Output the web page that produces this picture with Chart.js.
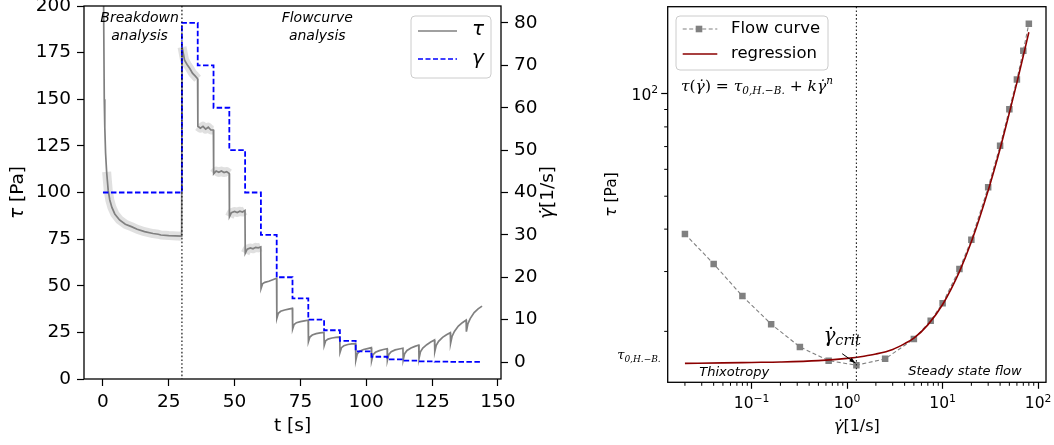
<!DOCTYPE html>
<html>
<head>
<meta charset="utf-8">
<title>Breakdown and flow curve</title>
<script src="https://cdn.jsdelivr.net/npm/chart.js@4.4.1/dist/chart.umd.min.js"></script>
<style>
  body { margin: 0; background: #fff; }
  #wrap { position: relative; width: 1054px; height: 445px; overflow: hidden; }
  #wrap canvas { position: absolute; top: 0; }
</style>
</head>
<body>
<div id="wrap">
  <canvas id="timeChart" width="575" height="445" style="left:0"></canvas>
  <canvas id="flowChart" width="464" height="445" style="left:590px"></canvas>
</div>
<script>
// ---------- left panel: shear stress and shear rate over time ----------
// tau over time (breakdown, then one block per rate step)
const tauTime = [
  0, 0.3, 0.5, 0.7, 1.0, 1.4, 2.0, 2.6, 3.4, 4.5, 6.3, 8.5, 10.8, 13, 15.8, 19, 21, 22, 25, 29.9,
  30.05, 31, 32, 33, 34, 35, 35.95,
  36.05, 37, 38, 39, 40, 41, 41.95,
  42.05, 43, 44, 45, 46, 47, 47.95,
  48.05, 48.8, 50, 51, 52, 53, 53.95,
  54.05, 54.8, 56, 57, 58, 59, 59.95,
  60.05, 60.6, 61.5, 63, 64.5, 65.95,
  66.05, 66.6, 67.5, 69, 70.5, 71.95,
  72.05, 72.6, 73.5, 75, 76.5, 77.95,
  78.05, 78.6, 79.5, 81, 82.5, 83.95,
  84.05, 84.6, 85.5, 87, 88.5, 89.95,
  90.05, 90.6, 91.5, 93, 94.5, 95.95,
  96.05, 96.6, 97.5, 99, 100.5, 101.95,
  102.05, 102.6, 103.5, 105, 106.5, 107.95,
  108.05, 108.6, 109.5, 111, 112.5, 113.95,
  114.05, 114.6, 115.5, 117, 118.5, 119.95,
  120.05, 120.6, 121.5, 123, 124.5, 125.95,
  126.05, 126.6, 127.5, 129, 130.5, 131.95,
  132.05, 132.6, 133.5, 135, 136.5, 137.95,
  138.05, 138.6, 139.5, 141, 142.5, 144
];
const tauValue = [
  260, 190, 150, 135, 121, 111, 101, 96, 92, 88.5, 85.3, 83, 81.7, 80.3, 79, 78, 77.6, 77.2, 76.9, 76.6,
  178, 171, 168.5, 166.5, 164, 162.5, 161,
  135.5, 134.5, 135.5, 134, 135, 133.5, 133.5,
  110, 111.5, 110.8, 111.5, 110.7, 111.2, 110.2,
  87, 89.2, 89.8, 89.3, 90, 89.5, 90.3,
  67.4, 69.6, 70.3, 69.8, 70.6, 70.3, 70.8,
  48.6, 51, 51.8, 52.4, 53.2, 54,
  32.5, 35.2, 36.3, 37, 37.5, 37.9,
  26.8, 29.2, 30.2, 30.8, 31.2, 31.5,
  20, 22.5, 23.6, 24.3, 24.7, 25,
  18, 20.5, 21.4, 22, 22.3, 22.5,
  14.3, 16.8, 17.8, 18.5, 18.8, 19,
  10, 13.5, 14.9, 15.8, 16.3, 16.8,
  9.8, 13, 14.3, 15.2, 15.8, 16.2,
  10, 13.2, 14.6, 15.6, 16.1, 16.5,
  10.2, 13.6, 15.3, 16.6, 17.5, 18.2,
  11, 14.6, 16.6, 18.4, 19.8, 20.9,
  14.7, 18, 20.2, 22.3, 23.7, 24.8,
  19.1, 22.8, 25.5, 28.4, 30.2, 31.6,
  25.4, 29.5, 32.4, 35.6, 37.6, 39.1
];
// shear rate program (step starts), last entry closes the final step
const rateTime = [0, 30, 36, 42, 48, 54, 60, 66, 72, 78, 84, 90, 96, 102, 108, 114, 120, 126, 132, 138, 144];
const rateValue = [40, 80, 70, 60, 50, 40, 30, 20, 15, 10, 7.5, 5, 2.5, 1.25, 0.64, 0.32, 0.16, 0.08, 0.04, 0.02, 0.02];
const tTicks = [0, 25, 50, 75, 100, 125, 150];
const tauTicks = [0, 25, 50, 75, 100, 125, 150, 175, 200];
const rateTicks = [0, 10, 20, 30, 40, 50, 60, 70, 80];
const breakdownEnd = 30;
const phaseNames = [['Breakdown', 'analysis'], ['Flowcurve', 'analysis']];
const phaseAt = [13.9, 81.4];

// ---------- right panel: flow curve ----------
const flowRate = [0.02, 0.04, 0.08, 0.16, 0.32, 0.64, 1.25, 2.5, 5, 7.5, 10, 15, 20, 30, 40, 50, 60, 70, 80];
const flowTau = [38.7, 31.6, 25.4, 21.0, 18.0, 16.4, 15.9, 16.6, 19.0, 21.5, 24.2, 30.5, 37.2, 53.1, 70.4, 90.1, 110.4, 134.1, 161];
const regRate = [0.02, 0.05, 0.1, 0.2, 0.5, 1, 1.5, 2, 3, 4, 5, 7, 10, 15, 20, 30, 40, 50, 60, 70, 80];
const regTau = [16.1, 16.15, 16.2, 16.25, 16.4, 16.65, 16.9, 17.15, 17.7, 18.4, 19.1, 20.9, 24.0, 30.0, 36.7, 52, 69, 88, 108, 129.5, 152];
const tau0 = 16.1;
const gammaCrit = 1.25;
const rateMajor = [0.1, 1, 10, 100];
const rateExp = ['−1', '0', '1', '2'];
const rateDecades = [0.01, 0.1, 1, 10];
const stressMajor = [100];
const stressExp = ['2'];
const stressDecades = [10, 100];

const SANS = '"DejaVu Sans"';
const SERIF = '"DejaVu Serif"';
const GRAY = '#808080';
const BAND = 'rgba(160,160,160,0.33)';
const BLUE = '#0000ff';
const DARKRED = '#8b0000';

Chart.defaults.font.family = 'DejaVu Sans';
Chart.defaults.color = '#000';

// writes a row of text pieces [text, font, dy] next to each other
function textRun(ctx, parts, x, y, align) {
  let w = 0;
  parts.forEach(p => { ctx.font = p[1]; w += ctx.measureText(p[0]).width; });
  let cx = align === 'center' ? x - w / 2 : (align === 'right' ? x - w : x);
  ctx.textAlign = 'left';
  parts.forEach(p => {
    ctx.font = p[1];
    ctx.fillText(p[0], cx, y + (p[2] || 0));
    cx += ctx.measureText(p[0]).width;
  });
}
function textRunUp(ctx, parts, x, y) {
  ctx.save();
  ctx.translate(x, y);
  ctx.rotate(-Math.PI / 2);
  textRun(ctx, parts, 0, 0, 'center');
  ctx.restore();
}
function powerLabel(exp) {
  return [['10', '15.5px ' + SANS], [exp, '10.8px ' + SANS, -6.5]];
}
function noPad(s) {
  s.paddingLeft = 0; s.paddingRight = 0; s.paddingTop = 0; s.paddingBottom = 0;
}
function fixedTicks(list) {
  return s => { s.ticks = list.map(v => ({ value: v })); };
}
function logTicks(major, decades, lo, hi) {
  const out = major.map(v => ({ value: v, major: true }));
  decades.forEach(d => {
    for (let m = 2; m <= 9; m++) {
      const v = d * m;
      if (v >= lo && v <= hi) out.push({ value: v, major: false });
    }
  });
  return out.sort((a, b) => a.value - b.value);
}

// ---------------- left chart ----------------
const tauPts = tauTime.map((t, i) => ({ x: t, y: tauValue[i] }));
const ratePts = rateTime.map((t, i) => ({ x: t, y: rateValue[i] }));

const timeDeco = {
  id: 'timeDeco',
  afterDraw(chart) {
    const { ctx, chartArea: a } = chart;
    const sx = chart.scales.x;
    ctx.save();
    ctx.strokeStyle = '#000';
    ctx.fillStyle = '#000';
    // end of breakdown phase
    const xb = sx.getPixelForValue(breakdownEnd);
    ctx.lineWidth = 1.1;
    ctx.setLineDash([1.6, 2.2]);
    ctx.beginPath(); ctx.moveTo(xb, a.top); ctx.lineTo(xb, a.bottom); ctx.stroke();
    ctx.setLineDash([]);
    // box
    ctx.lineWidth = 1.3;
    ctx.strokeRect(a.left, a.top, a.right - a.left, a.bottom - a.top);
    // phase names
    ctx.textBaseline = 'middle';
    ctx.textAlign = 'center';
    ctx.font = 'italic 14px ' + SANS;
    phaseNames.forEach((lines, i) => {
      const px = sx.getPixelForValue(phaseAt[i]);
      ctx.fillText(lines[0], px, a.top + 12);
      ctx.fillText(lines[1], px, a.top + 30.5);
    });
    // legend
    const lx = a.right - 90, ly = a.top + 10;
    ctx.beginPath(); ctx.roundRect(lx, ly, 80, 62, 4);
    ctx.fillStyle = 'rgba(255,255,255,0.8)'; ctx.fill();
    ctx.strokeStyle = '#cccccc'; ctx.lineWidth = 1; ctx.stroke();
    ctx.strokeStyle = GRAY; ctx.lineWidth = 1.6;
    ctx.beginPath(); ctx.moveTo(lx + 7, ly + 15); ctx.lineTo(lx + 46, ly + 15); ctx.stroke();
    ctx.strokeStyle = BLUE; ctx.setLineDash([5, 2.5]);
    ctx.beginPath(); ctx.moveTo(lx + 7, ly + 43); ctx.lineTo(lx + 46, ly + 43); ctx.stroke();
    ctx.setLineDash([]);
    ctx.fillStyle = '#000';
    ctx.font = 'italic 20px ' + SANS;
    ctx.fillText('τ', lx + 67, ly + 14);
    ctx.fillText('γ', lx + 67, ly + 43);
    // axis titles
    ctx.textBaseline = 'middle';
    textRun(ctx, [['t [s]', '18.5px ' + SANS]], (a.left + a.right) / 2, 426, 'center');
    textRunUp(ctx, [['τ', 'italic 18.5px ' + SANS], [' [Pa]', '18.5px ' + SANS]], 18, (a.top + a.bottom) / 2);
    textRunUp(ctx, [['γ̇', 'italic 18.5px ' + SANS], ['[1/s]', '18.5px ' + SANS]], 548, (a.top + a.bottom) / 2);
    ctx.restore();
  }
};

const tickGrid = { drawOnChartArea: false, tickLength: 7, tickWidth: 1.2, tickColor: '#000' };

new Chart(document.getElementById('timeChart'), {
  type: 'line',
  data: {
    datasets: [
      {
        label: 'γ', data: ratePts, yAxisID: 'y2', stepped: true, order: 0,
        borderColor: BLUE, borderWidth: 1.8, borderDash: [5.5, 2.5], pointRadius: 0, fill: false
      },
      {
        label: 'τ', data: tauPts, yAxisID: 'y', order: 1,
        borderColor: GRAY, borderWidth: 1.7, pointRadius: 0, fill: false
      },
      {
        label: 'band', data: tauPts, yAxisID: 'y', order: 2, clip: 0,
        borderColor: BAND, borderWidth: 9, pointRadius: 0, fill: false,
        borderJoinStyle: 'round', borderCapStyle: 'butt',
        segment: {
          borderColor: c => {
            const x0 = c.p0.parsed.x, x1 = c.p1.parsed.x;
            return (x0 < 1.4 || x0 >= 60 || x1 - x0 < 0.2) ? 'rgba(0,0,0,0)' : BAND;
          }
        }
      }
    ]
  },
  options: {
    responsive: false,
    animation: false,
    events: [],
    layout: { padding: { top: 6, left: 0, right: 0, bottom: 0 } },
    plugins: { legend: { display: false }, tooltip: { enabled: false } },
    scales: {
      x: {
        type: 'linear', min: -7.2, max: 151.2, bounds: 'data',
        afterBuildTicks: fixedTicks(tTicks),
        afterFit: s => { s.height = 66; noPad(s); },
        border: { display: false },
        grid: tickGrid,
        ticks: { font: { size: 18.5 }, padding: 5, maxRotation: 0, autoSkip: false }
      },
      y: {
        type: 'linear', position: 'left', min: 0, max: 200, bounds: 'data',
        afterBuildTicks: fixedTicks(tauTicks),
        afterFit: s => { s.width = 84; noPad(s); },
        border: { display: false },
        grid: tickGrid,
        ticks: { font: { size: 18.5 }, padding: 6, autoSkip: false }
      },
      y2: {
        type: 'linear', position: 'right', min: -4, max: 84, bounds: 'data',
        afterBuildTicks: fixedTicks(rateTicks),
        afterFit: s => { s.width = 74; noPad(s); },
        border: { display: false },
        grid: tickGrid,
        ticks: { font: { size: 18.5 }, padding: 6, autoSkip: false }
      }
    }
  },
  plugins: [timeDeco]
});

// ---------------- right chart ----------------
const flowPts = flowRate.map((r, i) => ({ x: r, y: flowTau[i] }));
const regPts = regRate.map((r, i) => ({ x: r, y: regTau[i] }));
const critTau = flowTau[flowRate.indexOf(gammaCrit)];

const flowDeco = {
  id: 'flowDeco',
  afterDraw(chart) {
    const { ctx, chartArea: a } = chart;
    const sx = chart.scales.x, sy = chart.scales.y;
    ctx.save();
    ctx.strokeStyle = '#000';
    ctx.fillStyle = '#000';
    // minor ticks
    ctx.lineWidth = 1;
    ctx.beginPath();
    sx.ticks.filter(t => !t.major).forEach(t => {
      const px = sx.getPixelForValue(t.value);
      ctx.moveTo(px, a.bottom); ctx.lineTo(px, a.bottom + 3.5);
    });
    sy.ticks.filter(t => !t.major).forEach(t => {
      const py = sy.getPixelForValue(t.value);
      ctx.moveTo(a.left, py); ctx.lineTo(a.left - 3.5, py);
    });
    ctx.stroke();
    // power-of-ten tick labels
    ctx.textBaseline = 'alphabetic';
    rateMajor.forEach((v, i) => {
      textRun(ctx, powerLabel(rateExp[i]), sx.getPixelForValue(v), a.bottom + 26, 'center');
    });
    stressMajor.forEach((v, i) => {
      textRun(ctx, powerLabel(stressExp[i]), a.left - 9.5, sy.getPixelForValue(v) + 5.7, 'right');
    });
    // critical shear rate
    const xc = sx.getPixelForValue(gammaCrit);
    const yc = sy.getPixelForValue(critTau);
    ctx.strokeStyle = '#222';
    ctx.lineWidth = 1.1;
    ctx.setLineDash([1.6, 2.2]);
    ctx.beginPath(); ctx.moveTo(xc, a.top); ctx.lineTo(xc, a.bottom); ctx.stroke();
    ctx.setLineDash([]);
    // box
    ctx.strokeStyle = '#000';
    ctx.lineWidth = 1.3;
    ctx.strokeRect(a.left, a.top, a.right - a.left, a.bottom - a.top);
    // yield stress label on the axis
    const y0 = sy.getPixelForValue(tau0);
    textRun(ctx, [['τ', 'italic 13px ' + SERIF], ['0,H.−B.', 'italic 9px ' + SERIF, 3]], a.left - 7, y0 - 4.5, 'right');
    // model equation
    textRun(ctx, [
      ['τ', 'italic 15.5px ' + SERIF], ['(', '15.5px ' + SERIF], ['γ̇', 'italic 15.5px ' + SERIF],
      [') = ', '15.5px ' + SERIF], ['τ', 'italic 15.5px ' + SERIF], ['0,H.−B.', 'italic 10.5px ' + SERIF, 3.5],
      [' + ', '15.5px ' + SERIF], ['kγ̇', 'italic 15.5px ' + SERIF], ['n', 'italic 10.5px ' + SERIF, -6.5]
    ], a.left + 13.3, a.top + 84, 'left');
    // critical rate annotation
    textRun(ctx, [['γ̇', 'italic 20px ' + SERIF], ['crit', 'italic 14.5px ' + SERIF, 3]], xc - 33, yc - 23.5, 'left');
    const ax0 = xc - 14.2, ay0 = yc - 11.5, ax1 = xc - 1, ay1 = yc - 2.2;
    ctx.lineWidth = 1;
    ctx.beginPath(); ctx.moveTo(ax0, ay0); ctx.lineTo(ax1, ay1); ctx.stroke();
    const ang = Math.atan2(ay1 - ay0, ax1 - ax0);
    ctx.beginPath();
    ctx.moveTo(ax1, ay1);
    ctx.lineTo(ax1 - 6 * Math.cos(ang) + 2.2 * Math.sin(ang), ay1 - 6 * Math.sin(ang) - 2.2 * Math.cos(ang));
    ctx.lineTo(ax1 - 6 * Math.cos(ang) - 2.2 * Math.sin(ang), ay1 - 6 * Math.sin(ang) + 2.2 * Math.cos(ang));
    ctx.closePath(); ctx.fill();
    // regime names
    ctx.textBaseline = 'middle';
    ctx.font = 'italic 13px ' + SANS;
    ctx.textAlign = 'left';
    ctx.fillText('Thixotropy', a.left + 31.6, a.bottom - 10);
    ctx.textAlign = 'right';
    ctx.fillText('Steady state flow', a.right - 24.3, a.bottom - 11);
    // legend
    const lx = a.left + 8.3, ly = a.top + 9.3;
    ctx.beginPath(); ctx.roundRect(lx, ly, 152, 54, 4);
    ctx.fillStyle = 'rgba(255,255,255,0.8)'; ctx.fill();
    ctx.strokeStyle = '#cccccc'; ctx.lineWidth = 1; ctx.stroke();
    ctx.strokeStyle = GRAY; ctx.lineWidth = 1.1; ctx.setLineDash([4, 2.5]);
    ctx.beginPath(); ctx.moveTo(lx + 6.7, ly + 13); ctx.lineTo(lx + 41.3, ly + 13); ctx.stroke();
    ctx.setLineDash([]);
    ctx.fillStyle = GRAY; ctx.fillRect(lx + 23 - 3.3, ly + 13 - 3.3, 6.6, 6.6);
    ctx.strokeStyle = DARKRED; ctx.lineWidth = 1.6;
    ctx.beginPath(); ctx.moveTo(lx + 6.7, ly + 38); ctx.lineTo(lx + 41.3, ly + 38); ctx.stroke();
    ctx.fillStyle = '#000';
    ctx.font = '16.5px ' + SANS;
    ctx.textAlign = 'left';
    ctx.fillText('Flow curve', lx + 55, ly + 13);
    ctx.fillText('regression', lx + 55, ly + 38);
    // axis titles
    textRun(ctx, [['γ̇', 'italic 16px ' + SANS], ['[1/s]', '16px ' + SANS]], (a.left + a.right) / 2, 427, 'center');
    textRunUp(ctx, [['τ', 'italic 15.5px ' + SANS], [' [Pa]', '15.5px ' + SANS]], 21.7, (a.top + a.bottom) / 2);
    ctx.restore();
  }
};

const logGrid = {
  drawOnChartArea: false, tickLength: 6.5, tickWidth: 1.2,
  tickColor: c => (c.tick && c.tick.major) ? '#000' : 'rgba(0,0,0,0)'
};

new Chart(document.getElementById('flowChart'), {
  type: 'line',
  data: {
    datasets: [
      {
        label: 'regression', data: regPts, order: 0,
        borderColor: DARKRED, borderWidth: 1.6, pointRadius: 0, fill: false,
        cubicInterpolationMode: 'monotone'
      },
      {
        label: 'Flow curve', data: flowPts, order: 1,
        borderColor: GRAY, borderWidth: 1.1, borderDash: [4, 2.5], fill: false,
        pointStyle: 'rect', pointRadius: 4.6, pointBackgroundColor: GRAY, pointBorderWidth: 0
      }
    ]
  },
  options: {
    responsive: false,
    animation: false,
    events: [],
    layout: { padding: { top: 6.7, left: 0, right: 8, bottom: 0 } },
    plugins: { legend: { display: false }, tooltip: { enabled: false } },
    scales: {
      x: {
        type: 'logarithmic', min: 0.0132, max: 121, bounds: 'data',
        afterBuildTicks: s => { s.ticks = logTicks(rateMajor, rateDecades, 0.0132, 121); },
        afterFit: s => { s.height = 62.7; noPad(s); },
        border: { display: false },
        grid: logGrid,
        ticks: { display: false }
      },
      y: {
        type: 'logarithmic', position: 'left', min: 14.16, max: 180.7, bounds: 'data',
        afterBuildTicks: s => { s.ticks = logTicks(stressMajor, stressDecades, 14.16, 180.7); },
        afterFit: s => { s.width = 77.7; noPad(s); },
        border: { display: false },
        grid: logGrid,
        ticks: { display: false }
      }
    }
  },
  plugins: [flowDeco]
});
</script>
</body>
</html>
